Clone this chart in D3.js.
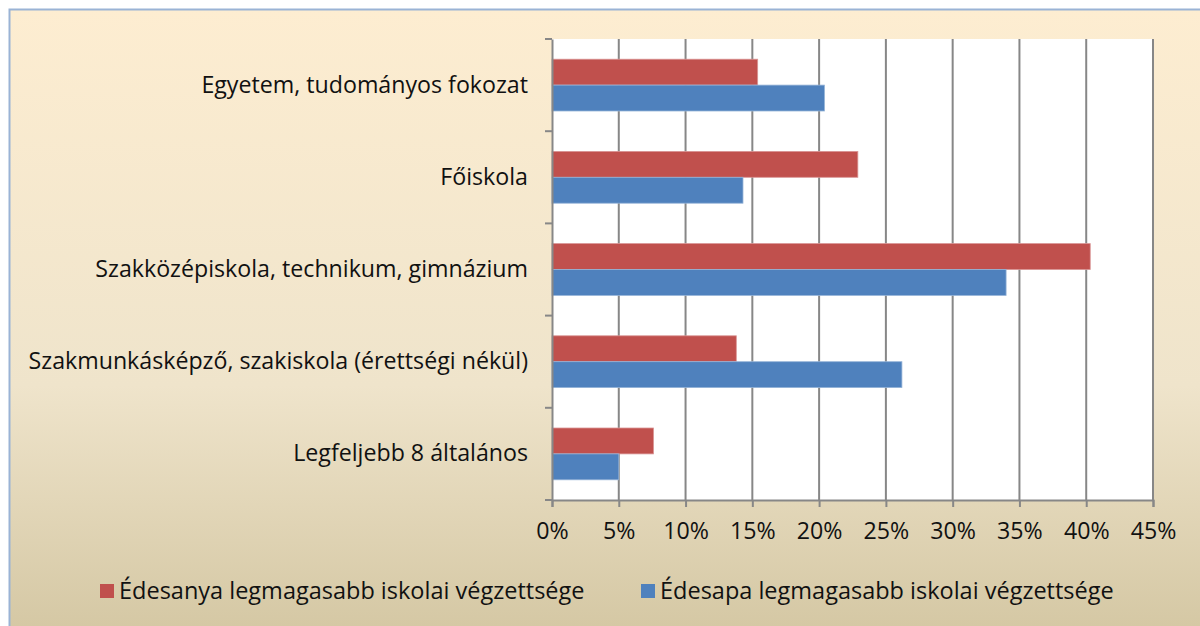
<!DOCTYPE html>
<html>
<head>
<meta charset="utf-8">
<script src="https://cdn.jsdelivr.net/npm/d3@7"></script>
<style>
  html, body { margin: 0; padding: 0; background: #fff; }
  svg { display: block; }
  text { font-family: "Open Sans", Lato, sans-serif; fill: #111; }
</style>
</head>
<body>
<div id="chart"></div>
<script>
// Datos (de arriba hacia abajo)
const categorias = [
  "Egyetem, tudományos fokozat",
  "Főiskola",
  "Szakközépiskola, technikum, gimnázium",
  "Szakmunkásképző, szakiskola (érettségi nékül)",
  "Legfeljebb 8 általános"
];
const series = ["Édesanya legmagasabb iskolai végzettsége", "Édesapa legmagasabb iskolai végzettsége"];
const anya = [15.4, 22.9, 40.3, 13.8, 7.6];
const apa = [20.4, 14.3, 34.0, 26.2, 5.0];
const ticks = [0, 5, 10, 15, 20, 25, 30, 35, 40, 45];
const colores = ["#C0504D", "#4F81BD"];

const width = 1200, height = 626;
const margin = {left: 552, right: 47, top: 39, bottom: 126};
const fuente = "23.2px";

const svg = d3.select("#chart").append("svg")
  .attr("width", width)
  .attr("height", height);

// Fondo degradado
const defs = svg.append("defs");
const grad = defs.append("linearGradient")
  .attr("id", "fondo").attr("x1", 0).attr("y1", 0).attr("x2", 0).attr("y2", 1);
grad.append("stop").attr("offset", "0%").attr("stop-color", "#FDEDD1");
grad.append("stop").attr("offset", "60%").attr("stop-color", "#EFE4CB");
grad.append("stop").attr("offset", "100%").attr("stop-color", "#D4C7A3");

svg.append("rect")
  .attr("x", 9.5).attr("y", 9.5)
  .attr("width", width).attr("height", height)
  .attr("fill", "url(#fondo)")
  .attr("stroke", "#9AB3D5")
  .attr("stroke-width", 2);

const x = d3.scaleLinear()
  .domain([0, 45])
  .range([margin.left, width - margin.right]);

const y = d3.scaleBand()
  .domain(categorias)
  .range([margin.top, height - margin.bottom]);

const ySub = d3.scaleBand()
  .domain([0, 1])
  .range([0, y.bandwidth()])
  .paddingOuter(0.78)
  .paddingInner(0);

// Area del grafico
svg.append("rect")
  .attr("x", x(0)).attr("y", margin.top)
  .attr("width", x(45) - x(0))
  .attr("height", height - margin.bottom - margin.top)
  .attr("fill", "#fff");

// Lineas de cuadricula
svg.append("g")
  .selectAll("line")
  .data(ticks.slice(1))
  .join("line")
  .attr("x1", d => x(d)).attr("x2", d => x(d))
  .attr("y1", margin.top).attr("y2", height - margin.bottom)
  .attr("stroke", "#878787")
  .attr("stroke-width", 2);

// Barras
const datos = [anya, apa];
const grupos = svg.append("g")
  .selectAll("g")
  .data(categorias)
  .join("g")
  .attr("transform", d => `translate(0,${y(d)})`);

grupos.selectAll("rect")
  .data((d, i) => datos.map((s, j) => ({serie: j, valor: s[i]})))
  .join("rect")
  .attr("x", x(0))
  .attr("y", d => ySub(d.serie))
  .attr("width", d => x(d.valor) - x(0))
  .attr("height", ySub.bandwidth())
  .attr("fill", d => colores[d.serie])
  .attr("stroke", d => d.serie === 0 ? "#D99594" : "#95B3D7")
  .attr("stroke-width", 0.8);

// Eje X
const ejeX = svg.append("g")
  .attr("transform", `translate(0,${height - margin.bottom})`)
  .call(d3.axisBottom(x).tickValues(ticks).tickFormat(d => d + "%").tickSize(7).tickPadding(16));
ejeX.select(".domain").attr("stroke", "#878787").attr("stroke-width", 2);
ejeX.selectAll(".tick line").attr("stroke", "#878787").attr("stroke-width", 2);
ejeX.selectAll("text").style("font-size", fuente).attr("fill", "#111");

// Eje Y
const ejeY = svg.append("g")
  .attr("transform", `translate(${margin.left},0)`)
  .call(d3.axisLeft(y).tickSize(0).tickPadding(24));
ejeY.select(".domain").attr("stroke", "#878787").attr("stroke-width", 2);
ejeY.selectAll("text").style("font-size", fuente).attr("fill", "#111");

// marcas entre categorias
const bordes = categorias.map(c => y(c)).concat([height - margin.bottom]);
svg.append("g")
  .selectAll("line")
  .data(bordes)
  .join("line")
  .attr("x1", margin.left - 7).attr("x2", margin.left)
  .attr("y1", d => d).attr("y2", d => d)
  .attr("stroke", "#878787")
  .attr("stroke-width", 2);

// Leyenda
const leyendaX = [100, 641];
const leyenda = svg.append("g")
  .selectAll("g")
  .data(series)
  .join("g")
  .attr("transform", (d, i) => `translate(${leyendaX[i]},584)`);
leyenda.append("rect")
  .attr("width", 14).attr("height", 14)
  .attr("fill", (d, i) => colores[i]);
leyenda.append("text")
  .attr("x", 19).attr("y", 15)
  .style("font-size", "23.5px")
  .text(d => d);
</script>
</body>
</html>
